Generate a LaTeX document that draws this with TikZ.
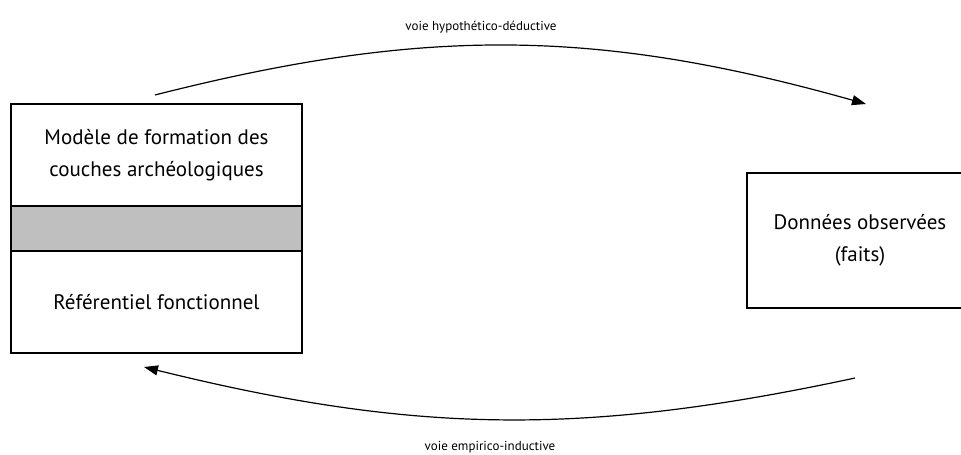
\documentclass[tikz,border=0pt]{standalone}
\usepackage{fontspec}
\setmainfont{PT Sans}
\usetikzlibrary{arrows.meta, positioning}

\tikzset{
  boxpart/.style={draw, line width=1.4pt, outer sep=0pt, minimum width=291pt, inner sep=0pt,
    align=center, font=\fontsize{21}{32}\selectfont},
  voie/.style={-{Triangle[length=14pt, width=10pt]}, line width=1.2pt},
  voielab/.style={font=\fontsize{13}{15}\selectfont},
}

\begin{document}
\begin{tikzpicture}[x=1pt, y=1pt]
\useasboundingbox (0,0) rectangle (961,-455);

% left box : three stacked parts
\node[boxpart, minimum height=102pt, anchor=north west] (modele) at (11,-104)
  {Modèle de formation des\\couches archéologiques};
\node[boxpart, minimum height=45pt, fill=black!25, below=0pt of modele] (bande) {};
\node[boxpart, minimum height=102pt, below=0pt of bande] (referentiel)
  {Référentiel fonctionnel};

% right box
\node[boxpart, minimum width=226pt, minimum height=135pt, anchor=north west] (donnees)
  at (747,-173) {Données observées\\(faits)};

% arrow ends
\coordinate (hdA) at (155,-95);
\coordinate (hdB) at (866,-104);
\coordinate (eiA) at (855,-378);
\coordinate (eiB) at (144,-367);

% labels
\node[voielab] (hdlab) at (481,-27) {voie hypothético-déductive};
\node[voielab] (eilab) at (490,-447) {voie empirico-inductive};

% the two ways
\draw[voie] (hdA) to[bend left=15] (hdB);
\draw[voie] (eiA) to[bend left=13] (eiB);
\end{tikzpicture}
\end{document}
